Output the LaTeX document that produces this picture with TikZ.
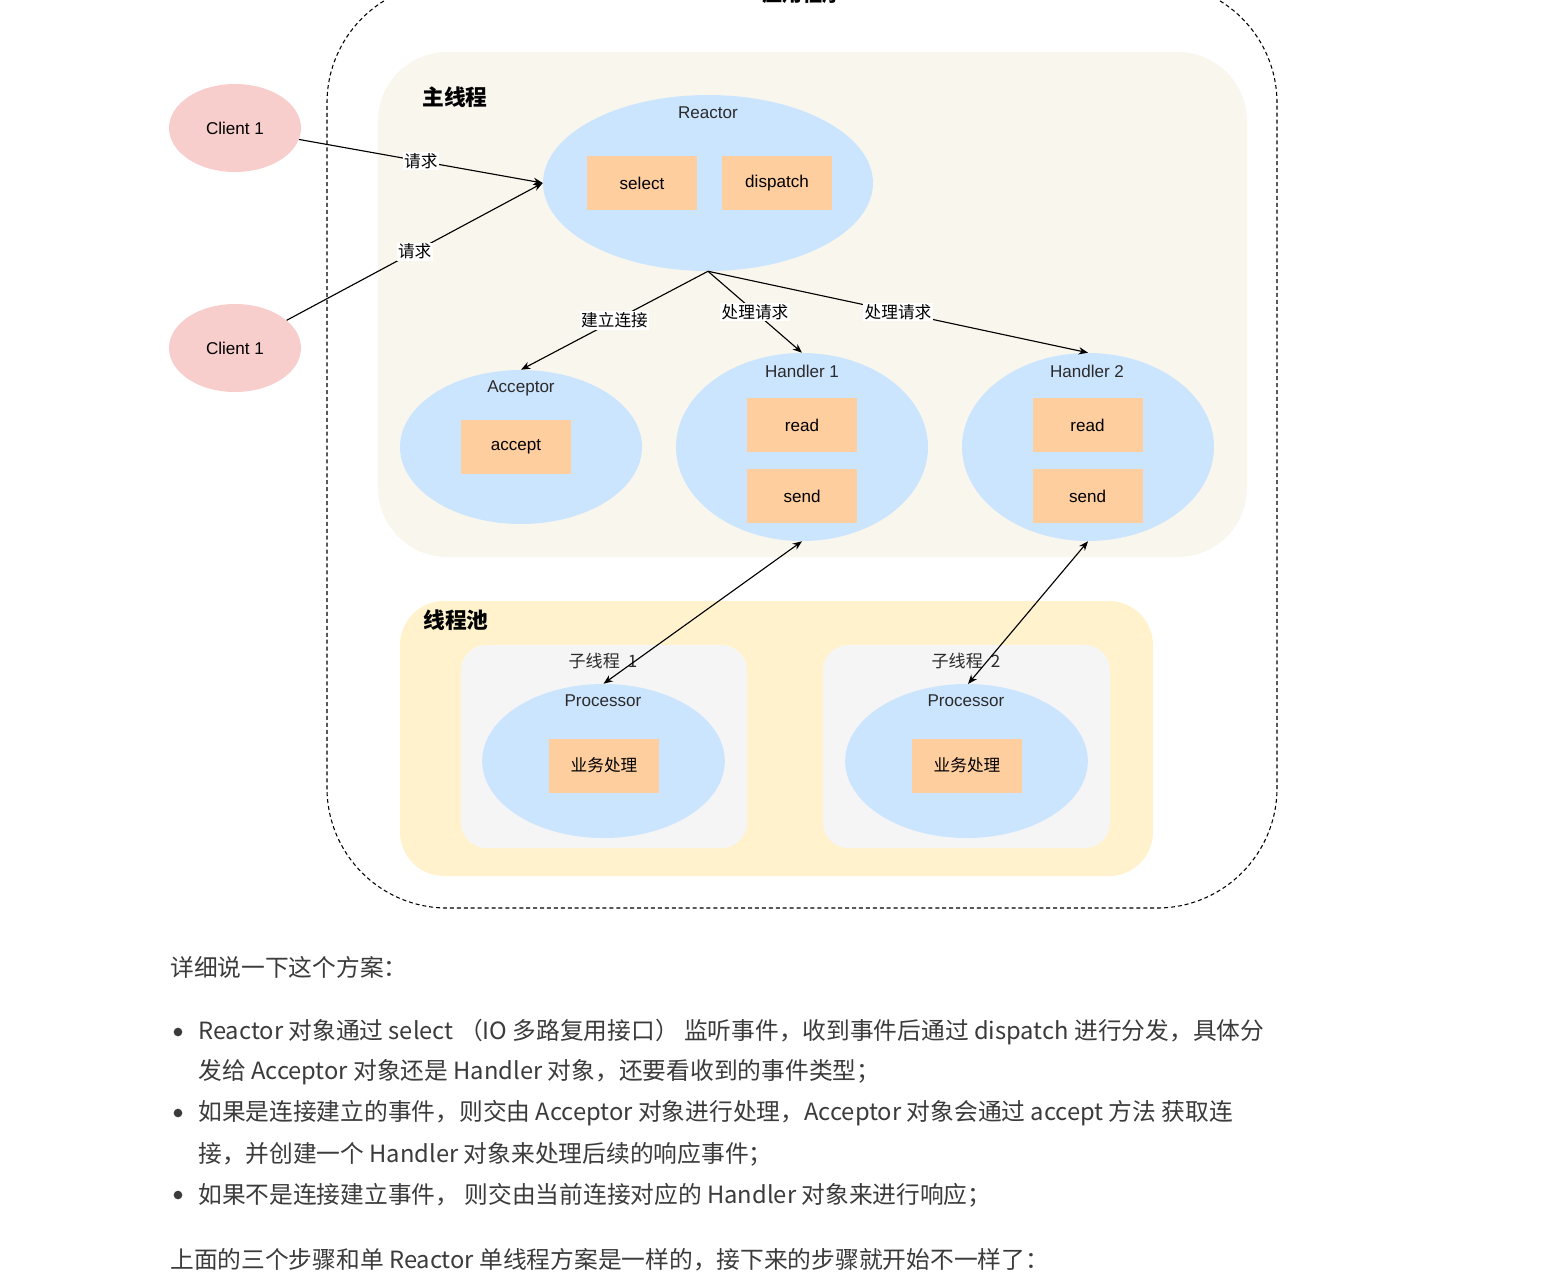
\documentclass[tikz,border=0pt]{standalone}
\usepackage{fontspec}
\setmainfont{Liberation Sans}
\newfontfamily\cjk{Noto Sans CJK SC}
\usetikzlibrary{shapes.geometric,arrows.meta}
\definecolor{blueell}{HTML}{CCE5FF}
\definecolor{orangebox}{HTML}{FFCE9F}
\definecolor{pinkell}{HTML}{F8CECC}
\definecolor{mainbg}{HTML}{F9F7ED}
\definecolor{poolbg}{HTML}{FFF2CC}
\definecolor{subbg}{HTML}{F5F5F5}
\definecolor{bodytxt}{HTML}{3B3B3B}
\definecolor{lbltxt}{HTML}{2B2B2B}
\begin{document}
\begin{tikzpicture}[x=0.75pt,y=-0.75pt,
  ell/.style={ellipse, fill=blueell, draw=none, inner sep=0pt},
  cli/.style={ellipse, fill=pinkell, draw=none, inner sep=0pt, minimum width=99pt, minimum height=66pt, font=\fontsize{12.8}{15}\selectfont},
  obox/.style={rectangle, fill=orangebox, draw=none, minimum width=82.5pt, minimum height=40.5pt, inner sep=0pt, font=\fontsize{12.8}{15}\selectfont},
  cbox/.style={obox, font=\cjk\fontsize{12.5}{15}\selectfont},
  ttl/.style={inner sep=0pt, text=lbltxt, font=\fontsize{12.8}{15}\selectfont},
  cttl/.style={inner sep=0pt, text=lbltxt, font=\cjk\fontsize{12.8}{15}\selectfont},
  grp/.style={inner sep=0pt, font=\cjk\bfseries\fontsize{16.3}{19}\selectfont},
  arr/.style={-{Stealth[length=7pt,width=5.5pt]}, line width=0.85pt},
  darr/.style={{Stealth[length=7pt,width=5.5pt]}-{Stealth[length=7pt,width=5.5pt]}, line width=0.85pt},
  lbl/.style={fill=white, inner sep=1pt, font=\cjk\fontsize{12.5}{15}\selectfont},
  body/.style={anchor=west, inner sep=0pt, text=bodytxt, font=\cjk\fontsize{17.8}{21}\selectfont},
  dot/.style={circle, fill=bodytxt, inner sep=0pt, minimum size=6.5pt}
]
\useasboundingbox (0,0) rectangle (1543,1279);
\fill[white] (0,0) rectangle (1543,1279);

% outer dashed application box
\node[draw, dash pattern=on 3pt off 2.2pt, line width=0.8pt, rounded corners=90pt,
      minimum width=712.5pt, minimum height=693.75pt, inner sep=0pt] (app) at (802,445.5) {};
\node[inner sep=0pt, font=\cjk\bfseries\fontsize{15}{18}\selectfont] (apptitle) at (802,-6) {应用程序};

% main thread
\node[fill=mainbg, rounded corners=52pt, minimum width=651.75pt, minimum height=378.75pt, inner sep=0pt] (main) at (812.5,304.5) {};
\node[grp] (maint) at (455,97) {主线程};

% thread pool
\node[fill=poolbg, rounded corners=33pt, minimum width=564.75pt, minimum height=206.25pt, inner sep=0pt] (pool) at (776.5,738.5) {};
\node[grp] (poolt) at (456,620) {线程池};
\node[fill=subbg, rounded corners=19pt, minimum width=214.5pt, minimum height=152.25pt, inner sep=0pt] (sub1) at (604,746.5) {};
\node[fill=subbg, rounded corners=19pt, minimum width=215.25pt, minimum height=152.25pt, inner sep=0pt] (sub2) at (966.5,746.5) {};
\node[cttl] (sub1t) at (603,661) {子线程\hspace{6pt}1};
\node[cttl] (sub2t) at (966,661) {子线程\hspace{6pt}2};

% clients
\node[cli] (c1) at (235,128) {Client 1};
\node[cli] (c2) at (235,348) {Client 1};

% reactor
\node[ell, minimum width=247.5pt, minimum height=132pt] (reactor) at (708,183) {};
\node[ttl] (reactort) at (708,113) {Reactor};
\node[obox] (select) at (642,183) {select};
\node[obox] (dispatch) at (777,183) {dispatch};

% acceptor
\node[ell, minimum width=181.5pt, minimum height=115.5pt] (acceptor) at (521,447) {};
\node[ttl] (acceptort) at (521,388) {Acceptor};
\node[obox] (accept) at (516,447) {accept};

% handlers
\node[ell, minimum width=189pt, minimum height=141pt] (h1) at (802,447) {};
\node[ttl] (h1t) at (802,371) {Handler 1};
\node[obox] (h1read) at (802,425) {read};
\node[obox] (h1send) at (802,496) {send};

\node[ell, minimum width=189pt, minimum height=141pt] (h2) at (1088,447) {};
\node[ttl] (h2t) at (1087,371) {Handler 2};
\node[obox] (h2read) at (1087.5,425) {read};
\node[obox] (h2send) at (1087.5,496) {send};

% processors
\node[ell, minimum width=182pt, minimum height=115.5pt] (p1) at (603.5,761) {};
\node[ttl] (p1t) at (603,701) {Processor};
\node[cbox] (biz1) at (604,765.5) {业务处理};

\node[ell, minimum width=182pt, minimum height=115.5pt] (p2) at (966.5,761) {};
\node[ttl] (p2t) at (966,701) {Processor};
\node[cbox] (biz2) at (967,765.5) {业务处理};

% connectors
\draw[arr] (c1) -- node[lbl] {请求} (reactor.west);
\draw[arr] (c2) -- node[lbl] {请求} (reactor.west);
\draw[arr] (reactor.south) -- node[lbl] {建立连接} (acceptor.north);
\draw[arr] (reactor.south) -- node[lbl] {处理请求} (h1.north);
\draw[arr] (reactor.south) -- node[lbl] {处理请求} (h2.north);
\draw[darr] (h1.south) -- (p1.north);
\draw[darr] (h2.south) -- (968,684) coordinate (p2top);

% body text
\node[body] (t0) at (170,967) {详细说一下这个方案：};
\node[dot] (d1) at (178,1032) {};
\node[body] (t1) at (198,1032) {Reactor 对象通过 select （IO 多路复用接口） 监听事件，收到事件后通过 dispatch 进行分发，具体分};
\node[body] (t2) at (198,1072) {发给 Acceptor 对象还是 Handler 对象，还要看收到的事件类型；};
\node[dot] (d2) at (178,1113) {};
\node[body] (t3) at (198,1113) {如果是连接建立的事件，则交由 Acceptor 对象进行处理，Acceptor 对象会通过 accept 方法 获取连};
\node[body] (t4) at (198,1154) {接，并创建一个 Handler 对象来处理后续的响应事件；};
\node[dot] (d3) at (178,1195) {};
\node[body] (t5) at (198,1195) {如果不是连接建立事件， 则交由当前连接对应的 Handler 对象来进行响应；};
\node[body] (t6) at (170,1260) {上面的三个步骤和单 Reactor 单线程方案是一样的，接下来的步骤就开始不一样了：};
\end{tikzpicture}
\end{document}
